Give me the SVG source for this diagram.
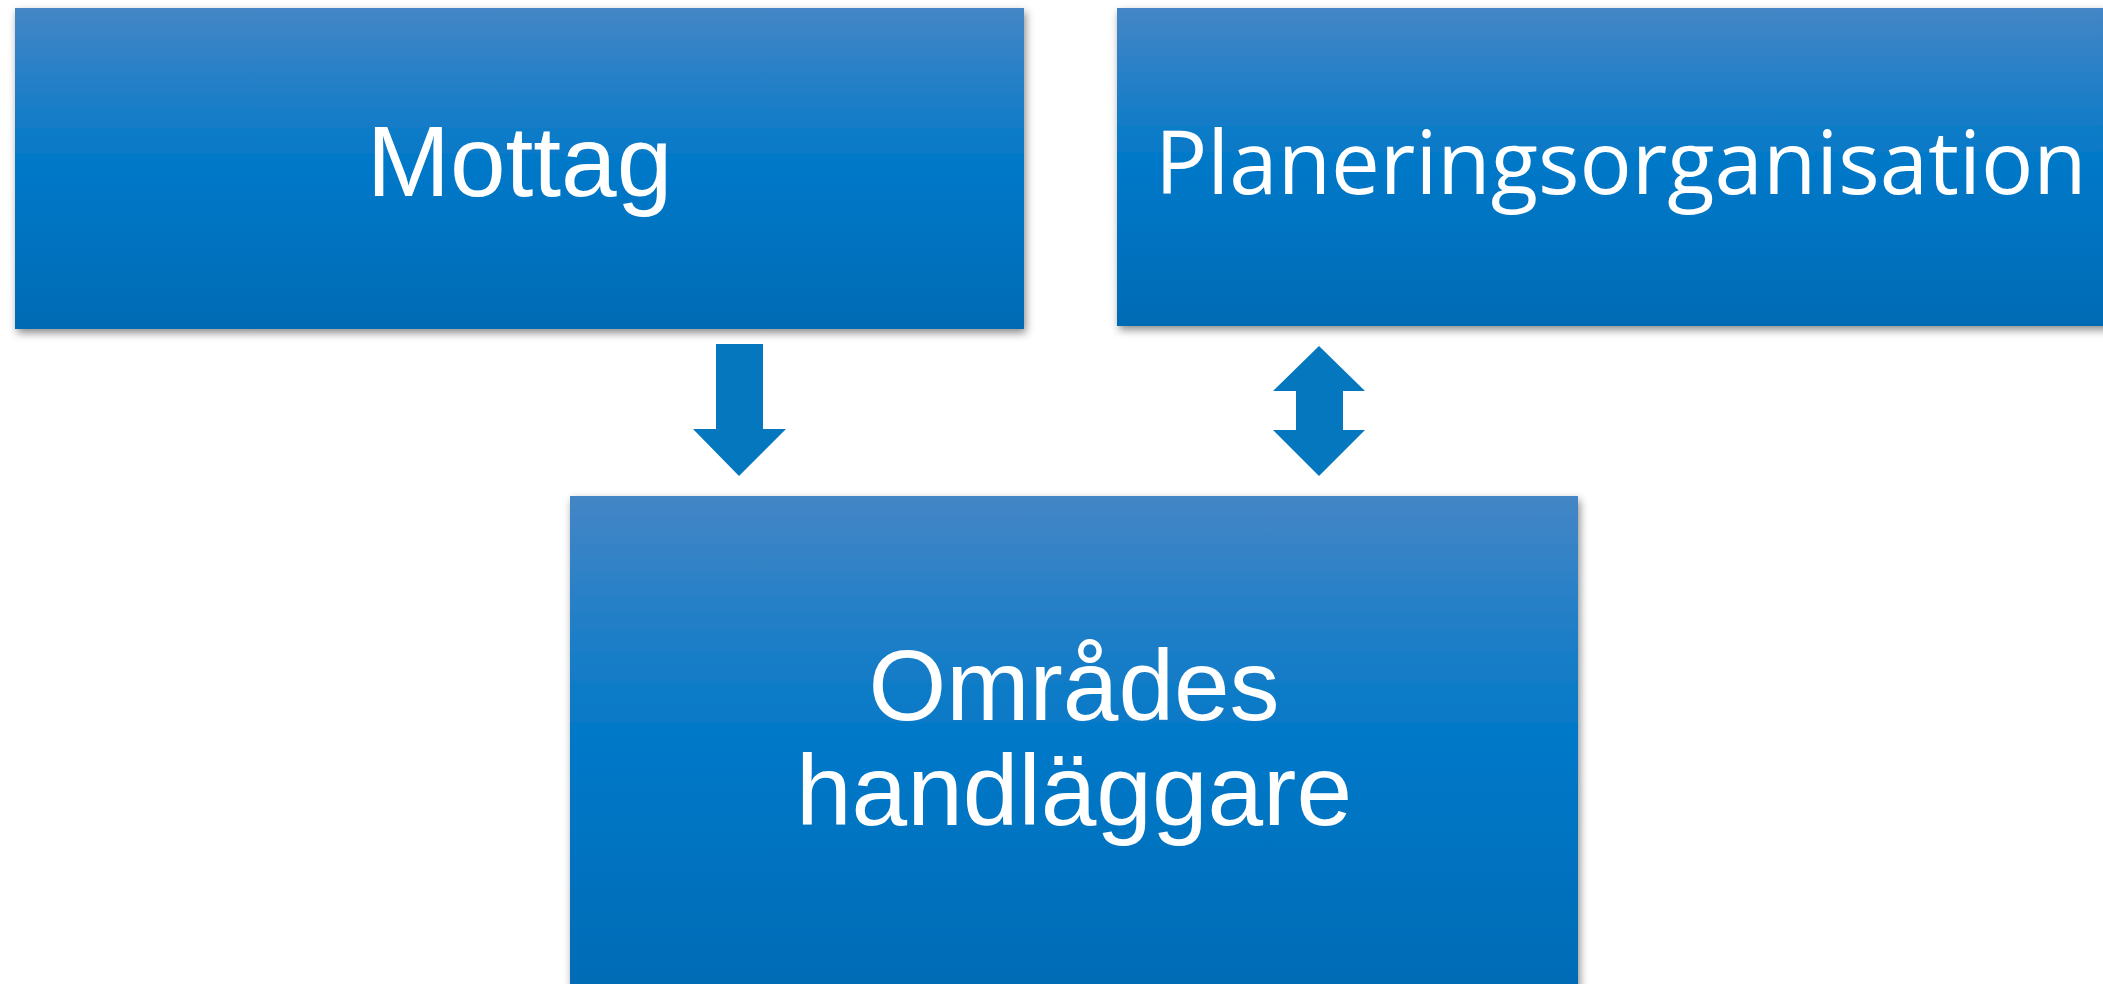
<svg xmlns="http://www.w3.org/2000/svg" width="2103" height="984" viewBox="0 0 2103 984">
  <style>
    .box { fill: url(#boxFill); filter: url(#shadow); }
    .label { fill: #ffffff; font-family: "Liberation Sans", Arial, sans-serif; font-size: 100px; }
    .label-os { fill: #ffffff; font-family: "Open Sans", "Noto Sans", sans-serif; font-size: 87px; }
    .arrow { fill: #0477bf; }
  </style>
  <defs>
    <linearGradient id="boxFill" x1="0" y1="0" x2="0" y2="1">
      <stop offset="0" stop-color="#4486c6"/>
      <stop offset="0.5" stop-color="#0078c8"/>
      <stop offset="1" stop-color="#006bb5"/>
    </linearGradient>
    <filter id="shadow" x="-5%" y="-5%" width="112%" height="120%">
      <feDropShadow dx="2" dy="4" stdDeviation="4" flood-color="#000000" flood-opacity="0.45"/>
    </filter>
  </defs>

  <rect width="2103" height="984" fill="#ffffff"/>

  <g id="node-mottag">
    <rect class="box" x="15" y="8" width="1009" height="321"/>
    <text class="label" x="519.5" y="196" text-anchor="middle">Mottag</text>
  </g>

  <g id="node-planeringsorganisation">
    <rect class="box" x="1117" y="8" width="1000" height="318"/>
    <text class="label-os" x="1155" y="194">Planeringsorganisation</text>
  </g>

  <g id="node-omradeshandlaggare">
    <rect class="box" x="570" y="496" width="1008" height="500"/>
    <text class="label" x="1074" y="720" text-anchor="middle">Områdes</text>
    <text class="label" x="1074" y="825" text-anchor="middle">handläggare</text>
  </g>

  <g id="connectors">
    <!-- one-way arrow: Mottag to Områdes handläggare -->
    <polygon class="arrow" points="716,344 763,344 763,429 786,429 739,476 693,429 716,429"/>
    <!-- two-way arrow: Planeringsorganisation and Områdes handläggare -->
    <polygon class="arrow" points="1319,346 1365,391 1343,391 1343,430 1365,430 1319,476 1273,430 1296,430 1296,391 1273,391"/>
  </g>
</svg>
